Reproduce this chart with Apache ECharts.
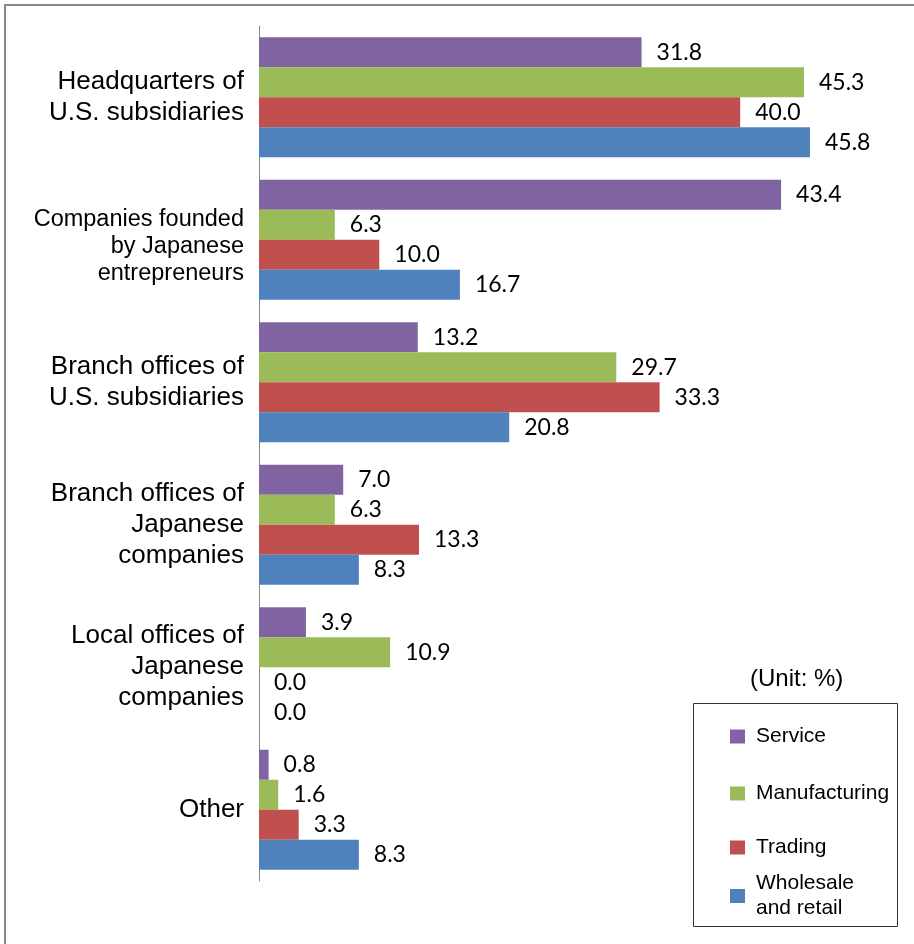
<!DOCTYPE html>
<html>
<head>
<meta charset="utf-8">
<script src="https://cdn.jsdelivr.net/npm/echarts@6/dist/echarts.min.js"></script>
<style>
  html, body { margin: 0; padding: 0; background: #fff; }
  #chart { width: 914px; height: 944px; }
</style>
</head>
<body>
<div id="chart"></div>
<script>
// Office type categories, top to bottom
const categories = [
  'Headquarters of\nU.S. subsidiaries',
  'Companies founded\nby Japanese\nentrepreneurs',
  'Branch offices of\nU.S. subsidiaries',
  'Branch offices of\nJapanese\ncompanies',
  'Local offices of\nJapanese\ncompanies',
  'Other'
];

// Share by industry (%)
const service       = [31.8, 43.4, 13.2, 7.0, 3.9, 0.8];
const manufacturing = [45.3, 6.3, 29.7, 6.3, 10.9, 1.6];
const trading       = [40.0, 10.0, 33.3, 13.3, 0.0, 3.3];
const wholesale     = [45.8, 16.7, 20.8, 8.3, 0.0, 8.3];

const seriesNames = ['Service', 'Manufacturing', 'Trading', 'Wholesale\nand retail'];
const seriesColors = ['#8064A2', '#9BBB59', '#C0504D', '#4F81BD'];
const seriesData = [service, manufacturing, trading, wholesale];

const chart = echarts.init(document.getElementById('chart'));

const valueLabel = {
  show: true,
  position: 'right',
  distance: 15,
  fontFamily: 'Lato',
  fontSize: 23,
  color: '#000',
  formatter: p => p.value.toFixed(1)
};

const legendTops = [724, 781, 835, 871];

// The long second category is set smaller and sits a little lower
function categoryLabel(v, i) {
  if (i !== 1) return v;
  return '{g|}\n' + v.split('\n').map(s => '{s|' + s + '}').join('\n');
}

chart.setOption({
  animation: false,
  backgroundColor: '#fff',
  grid: { left: 259, right: 53.5, top: 26, bottom: 63 },
  xAxis: {
    type: 'value',
    min: 0,
    max: 50,
    show: false
  },
  yAxis: {
    type: 'category',
    data: categories,
    inverse: true,
    axisLine: { show: true, lineStyle: { color: '#888', width: 1 } },
    axisTick: { show: false },
    splitLine: { show: false },
    axisLabel: {
      margin: 15,
      align: 'right',
      fontFamily: 'Liberation Sans',
      color: '#000',
      fontSize: 26,
      lineHeight: 31,
      formatter: categoryLabel,
      rich: {
        g: { fontSize: 10, lineHeight: 14 },
        s: { fontFamily: 'Liberation Sans', fontSize: 23.5, lineHeight: 27, color: '#000' }
      }
    }
  },
  legend: seriesNames.map((name, i) => ({
    data: [name],
    left: 730,
    top: legendTops[i],
    padding: 0,
    orient: 'vertical',
    icon: 'rect',
    itemWidth: 15,
    itemHeight: 14,
    selectedMode: false,
    textStyle: {
      fontFamily: 'Liberation Sans',
      fontSize: 21,
      lineHeight: 25,
      color: '#000',
      padding: [0, 0, 0, 6]
    }
  })),
  graphic: [
    {
      type: 'rect',
      shape: { x: 5, y: 5, width: 1000, height: 1000 },
      style: { fill: 'none', stroke: '#888', lineWidth: 2 },
      silent: true
    },
    {
      type: 'rect',
      shape: { x: 693.5, y: 703.5, width: 204, height: 223 },
      style: { fill: 'none', stroke: '#333', lineWidth: 1 },
      silent: true
    },
    {
      type: 'text',
      left: 750,
      top: 667,
      style: {
        text: '(Unit: %)',
        fontFamily: 'Liberation Sans',
        fontSize: 24,
        fill: '#000'
      }
    }
  ],
  series: seriesNames.map((name, i) => ({
    name: name,
    type: 'bar',
    data: seriesData[i],
    barGap: '0%',
    barCategoryGap: '15.8%',
    itemStyle: { color: seriesColors[i] },
    label: valueLabel
  }))
});
</script>
</body>
</html>
